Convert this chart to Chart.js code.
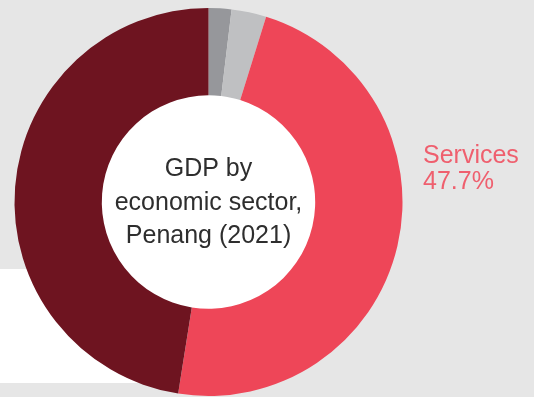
<!DOCTYPE html>
<html>
<head>
<meta charset="utf-8">
<script src="https://cdn.jsdelivr.net/npm/chart.js@4.4.0/dist/chart.umd.min.js"></script>
<style>
  html, body { margin: 0; padding: 0; }
  body {
    width: 534px; height: 397px; overflow: hidden;
    background: #e6e6e6; position: relative;
  }
  /* white panel behind the lower-left of the ring */
  .panel {
    position: absolute; left: 0; top: 269px;
    width: 220px; height: 114px; background: #ffffff;
  }
  #chart { position: absolute; left: 0; top: 0; }
</style>
</head>
<body>
<div class="panel"></div>
<canvas id="chart" width="534" height="397"></canvas>
<script>
  /* ── Data ── */
  const sectors = ['Agriculture', 'Construction', 'Services', 'Manufacturing'];
  const shares  = [1.9, 2.9, 47.7, 47.5];
  const colours = ['#96979b', '#bfc0c2', '#ee4658', '#6e1420'];
  const centreTitle = ['GDP by', 'economic sector,', 'Penang (2021)'];
  const calloutIndex = 2;

  const FONT = '"Liberation Sans", Arial, Helvetica, sans-serif';

  /* ── Hole fill, centre title and the Services callout ── */
  const annotate = {
    id: 'annotate',
    beforeDatasetsDraw(chart) {
      const arc = chart.getDatasetMeta(0).data[0];
      if (!arc) return;
      const ctx = chart.ctx;
      ctx.save();
      ctx.fillStyle = '#ffffff';
      ctx.beginPath();
      ctx.arc(arc.x, arc.y, arc.innerRadius + 0.5, 0, Math.PI * 2);
      ctx.fill();
      ctx.restore();
    },
    afterDraw(chart) {
      const arc = chart.getDatasetMeta(0).data[0];
      if (!arc) return;
      const ctx = chart.ctx;
      ctx.save();

      // centre title
      ctx.fillStyle = '#2e2e2e';
      ctx.font = '25px ' + FONT;
      ctx.textAlign = 'center';
      ctx.textBaseline = 'alphabetic';
      const baselines = [176, 210, 243];
      centreTitle.forEach((line, i) => ctx.fillText(line, arc.x, baselines[i]));

      // callout to the right of the ring
      ctx.fillStyle = '#ef5f6e';
      ctx.font = '25px ' + FONT;
      ctx.textAlign = 'left';
      ctx.fillText(sectors[calloutIndex], 423, 163);
      ctx.fillText(shares[calloutIndex].toFixed(1) + '%', 423, 189);

      ctx.restore();
    }
  };

  new Chart(document.getElementById('chart'), {
    type: 'doughnut',
    data: {
      labels: sectors,
      datasets: [{
        data: shares,
        backgroundColor: colours,
        borderWidth: 0,
        hoverOffset: 0,
      }]
    },
    options: {
      responsive: false,
      animation: false,
      cutout: '55%',
      rotation: 0,
      layout: { padding: { left: 14, right: 131, top: 8, bottom: 1 } },
      plugins: {
        legend: { display: false },
        tooltip: { enabled: false },
      }
    },
    plugins: [annotate]
  });
</script>
</body>
</html>
